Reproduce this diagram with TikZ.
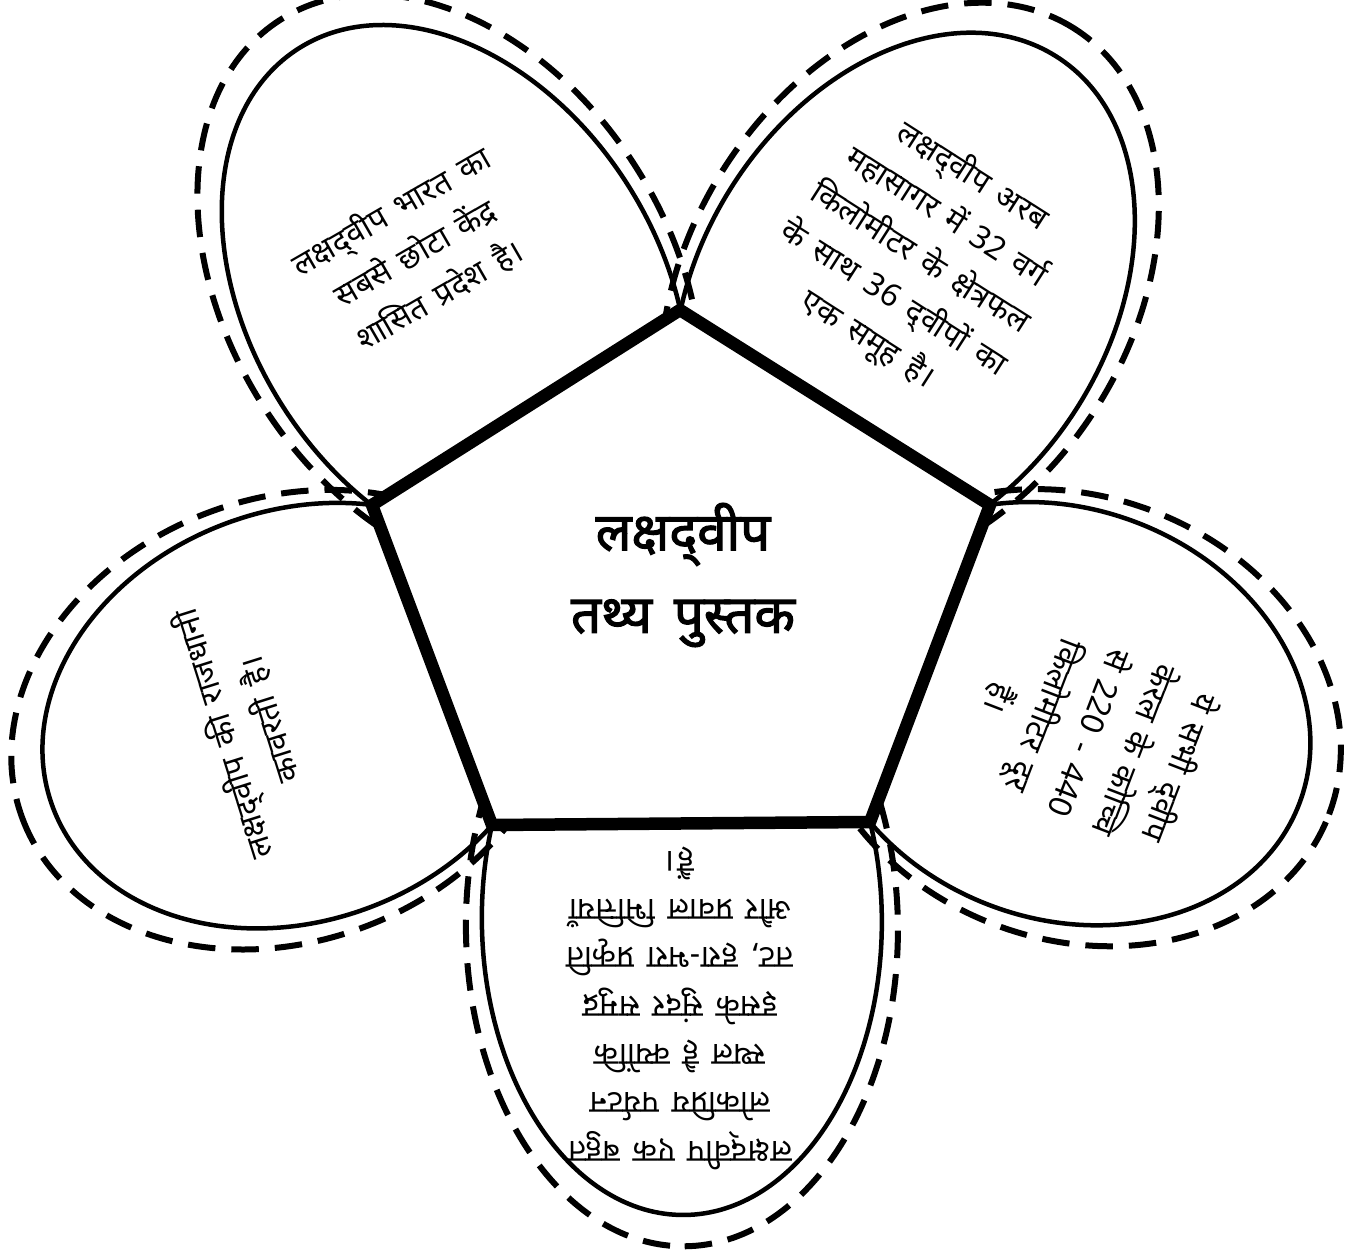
\documentclass[tikz,border=0pt]{standalone}
\usepackage{fontspec}
\newfontfamily\hindi[Script=Devanagari,WordSpace=1.5]{Noto Sans}
\newfontfamily\hindibold[Script=Devanagari,WordSpace=1.6,FakeBold=2.2]{Noto Sans}
\usetikzlibrary{calc}

\tikzset{
  petalline/.style={line width=0.09cm},
  petaldash/.style={line width=0.12cm, dash pattern=on 0.55cm off 0.32cm},
  hubline/.style={line width=0.25cm, fill=white, line join=miter},
  fact/.style={align=center, inner sep=0pt, font=\hindi\fontsize{18}{27.5}\selectfont},
}
% halant kept visible, as in the picture
\newcommand{\dv}{द्^^^^200cव}

\begin{document}
\begin{tikzpicture}
\useasboundingbox (0,0) rectangle (27.3,-25.04);

% corners of the pentagon
\coordinate (L)  at (7.44,-10.10);
\coordinate (T)  at (13.60,-6.20);
\coordinate (R)  at (19.80,-10.10);
\coordinate (BR) at (17.40,-16.44);
\coordinate (BL) at (9.84,-16.50);

% petals: middle of side / angle / offset / radii
\foreach \mx/\my/\ang/\d/\a/\b in {
    10.52/-8.15/122.3/2.66/5.84/4.10,
    16.70/-8.15/57.8/2.60/5.70/4.10,
    18.60/-13.27/-20.7/2.84/5.06/4.10,
    13.62/-16.47/-89.5/1.93/5.90/4.00,
    8.64/-13.30/200.6/2.88/5.22/4.10}
{
  \begin{scope}[shift={(\mx,\my)},rotate=\ang]
    \draw[petalline] (\d,0) ellipse ({\a} and {\b});
    \draw[petaldash] ({1.08*\d},0) ellipse ({1.08*\a} and {1.08*\b});
  \end{scope}
}

\draw[hubline] (L) -- (T) -- (R) -- (BR) -- (BL) -- cycle;

\node[align=center, font=\hindibold\fontsize{30}{47}\selectfont] (hub) at (13.66,-11.50)
  {लक्ष\dv ीप\\तथ्य पुस्तक};

\node[fact, rotate=30] (smallest) at (8.30,-5.06)
  {लक्ष\dv ीप भारत का\\सबसे छोटा केंद्र\\शासित प्रदेश है।};
\node[fact, rotate=-32.6] (islands) at (18.40,-5.16)
  {लक्ष\dv ीप अरब\\महासागर में 32 वर्ग\\किलोमीटर के क्षेत्रफल\\के साथ 36 \dv ीपों का\\एक समूह है।};
\node[fact, rotate=-111] (distance) at (21.80,-14.66)
  {ये सभी \dv ीप\\केरल के कोच्चि\\से 220 - 440\\किलोमीटर दूर\\हैं।};
\node[fact, rotate=180] (tourism) at (13.60,-20.16)
  {लक्ष\dv ीप एक बहुत\\लोकप्रिय पर्यटन\\स्थल है क्योंकि\\इसके सुंदर समुद्र\\तट, हरा-भरा प्रकृति\\और प्रवाल भित्तियाँ\\हैं।};
\node[fact, rotate=107.5] (capital) at (4.92,-14.54)
  {लक्ष\dv ीप की राजधानी\\कावरती है।};
\end{tikzpicture}
\end{document}
